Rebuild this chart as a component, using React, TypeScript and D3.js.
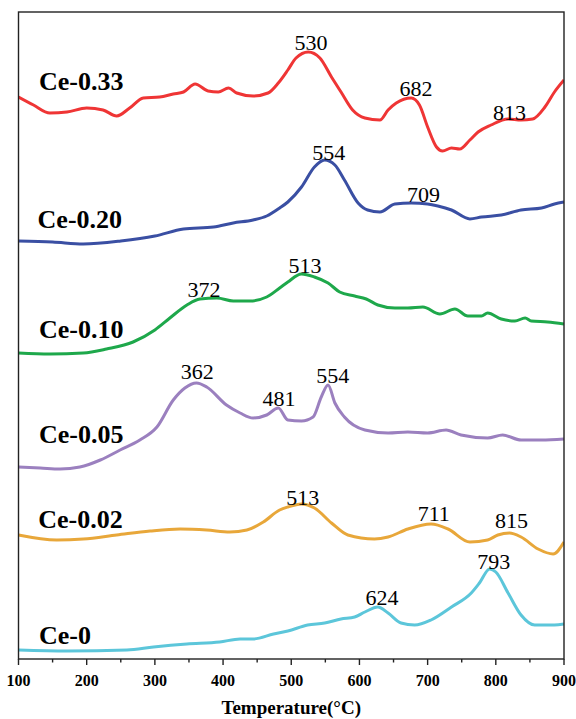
import * as d3 from "d3";

// H2-TPR style stacked curves, x in °C, y in arbitrary units (offset already included)
const temps = [100, 200, 300, 400, 500, 600, 700, 800, 900];
const minorTemps = [150, 250, 350, 450, 550, 650, 750, 850];

const ce033: [number, number][] = [
  [100, 562], [122, 554], [146, 546], [171, 547], [200, 551], [224, 549], [244, 543],
  [263, 551], [283, 561], [307, 562], [327, 565], [342, 567], [359, 575], [378, 568],
  [393, 567], [408, 571], [420, 566], [444, 563], [466, 566], [481, 576], [495, 589],
  [507, 601], [525, 607], [542, 601], [559, 582], [573, 567], [590, 549], [608, 541],
  [630, 539], [642, 549], [654, 556], [676, 561], [688, 554], [700, 532], [713, 512],
  [722, 508], [735, 511], [747, 510], [762, 519], [774, 527], [793, 534], [818, 540],
  [837, 539], [854, 540], [872, 552], [886, 567], [900, 579],
];
const ce020: [number, number][] = [
  [100, 418], [150, 417], [195, 415], [250, 418], [300, 423], [342, 430], [386, 432],
  [415, 436], [444, 439], [464, 443], [483, 451], [495, 457], [515, 472], [534, 492],
  [549, 499], [564, 494], [578, 479], [598, 456], [612, 449], [630, 447], [652, 455],
  [676, 456], [700, 455], [715, 453], [735, 449], [762, 440], [779, 442], [808, 444],
  [837, 449], [867, 451], [886, 455], [900, 457],
];
const ce010: [number, number][] = [
  [100, 306], [146, 305], [195, 306], [229, 310], [268, 317], [300, 329], [322, 341],
  [347, 354], [366, 360], [391, 361], [415, 358], [439, 358], [464, 362], [483, 371],
  [495, 377], [515, 385], [534, 382], [554, 376], [571, 367], [593, 363], [610, 360],
  [627, 354], [652, 351], [671, 351], [693, 352], [718, 345], [740, 350], [759, 343],
  [779, 343], [788, 346], [808, 340], [828, 338], [843, 341], [852, 338], [876, 337],
  [900, 335],
];
const ce005: [number, number][] = [
  [100, 192], [132, 191], [161, 190], [190, 192], [220, 199], [249, 209], [278, 219],
  [303, 232], [327, 259], [344, 271], [361, 276], [376, 272], [405, 254], [425, 246],
  [444, 241], [464, 244], [481, 251], [495, 239], [515, 238], [532, 242], [544, 262],
  [554, 274], [564, 256], [578, 242], [608, 229], [642, 226], [671, 227], [700, 226],
  [727, 229], [749, 224], [788, 221], [810, 224], [837, 219], [867, 219], [900, 220],
];
const ce002: [number, number][] = [
  [100, 124], [156, 119], [195, 120], [244, 124], [293, 128], [337, 130], [376, 129],
  [410, 127], [435, 129], [459, 137], [483, 149], [495, 152], [515, 155], [534, 151],
  [559, 136], [583, 124], [622, 120], [642, 122], [671, 130], [705, 135], [730, 130],
  [762, 117], [788, 119], [803, 124], [820, 126], [837, 122], [862, 110], [884, 105],
  [900, 117],
];
const ce000: [number, number][] = [
  [100, 9], [171, 8], [259, 9], [298, 12], [347, 15], [395, 17], [425, 20], [444, 20],
  [474, 25], [495, 28], [524, 34], [549, 36], [573, 40], [593, 42], [608, 47], [627, 52],
  [642, 46], [661, 36], [681, 34], [705, 39], [735, 52], [764, 66], [776, 76], [791, 90],
  [800, 87], [818, 66], [837, 44], [857, 34], [886, 34], [900, 35],
];

const seriesNames = ["Ce-0.33", "Ce-0.20", "Ce-0.10", "Ce-0.05", "Ce-0.02", "Ce-0"];
const seriesColors = ["#ef3535", "#3a4fa3", "#1ea84b", "#9b80bf", "#e8a73a", "#5cc6da"];
const seriesData = [ce033, ce020, ce010, ce005, ce002, ce000];
// where the name sits: [temperature of left edge, baseline value]
const nameAnchors: [number, number][] = [
  [130, 569], [128, 431], [130, 321], [130, 216], [129, 131], [130, 15],
];

// peak annotations: [text, temperature, baseline value]
const peakLabels: [string, number, number][] = [
  ["530", 529, 609], ["682", 683, 563], ["813", 820, 539],
  ["554", 555, 499], ["709", 694, 457],
  ["372", 372, 362], ["513", 520, 386],
  ["362", 362, 280], ["481", 482, 253], ["554", 561, 276],
  ["513", 517, 154], ["711", 709, 138], ["815", 823, 131],
  ["793", 797, 90], ["624", 633, 54],
];

const W = 576;
const H = 719;
const left = 18.5;
const right = 564;
const top = 12;
const bottom = 659;
const serif = "Liberation Serif";

export default function App() {
  const x = d3.scaleLinear().domain([100, 900]).range([left, right]);
  const y = d3.scaleLinear().domain([0, 647]).range([bottom, top]);
  const line = d3
    .line<[number, number]>()
    .x((d) => x(d[0]))
    .y((d) => y(d[1]))
    .curve(d3.curveMonotoneX);

  return (
    <svg
      width={W}
      height={H}
      style={{ position: "absolute", left: 0, top: 0, background: "#fff" }}
    >
      <defs>
        <clipPath id="plot">
          <rect x={left} y={top} width={right - left} height={bottom - top} />
        </clipPath>
      </defs>

      <g clipPath="url(#plot)">
        {seriesData.map((s, i) => (
          <path
            key={seriesNames[i]}
            d={line(s) ?? ""}
            fill="none"
            stroke={seriesColors[i]}
            strokeWidth={3}
            strokeLinejoin="round"
          />
        ))}
      </g>

      {/* frame */}
      <rect
        x={left}
        y={top}
        width={right - left}
        height={bottom - top}
        fill="none"
        stroke="#222"
        strokeWidth={1.4}
      />

      {/* x ticks */}
      {temps.map((t) => (
        <g key={t}>
          <line x1={x(t)} x2={x(t)} y1={bottom} y2={bottom + 6} stroke="#222" strokeWidth={1.4} />
          <text
            x={x(t)}
            y={686}
            textAnchor="middle"
            fontSize={16}
            fontWeight="bold"
            fontFamily={serif}
          >
            {t}
          </text>
        </g>
      ))}
      {minorTemps.map((t) => (
        <line key={t} x1={x(t)} x2={x(t)} y1={bottom} y2={bottom + 3.5} stroke="#222" strokeWidth={1.4} />
      ))}

      <text
        x={(left + right) / 2}
        y={714}
        textAnchor="middle"
        fontSize={19}
        fontWeight="bold"
        fontFamily={serif}
      >
        Temperature(°C)
      </text>

      {/* series names */}
      {seriesNames.map((n, i) => (
        <text
          key={n}
          x={x(nameAnchors[i][0])}
          y={y(nameAnchors[i][1])}
          fontSize={26}
          fontWeight="bold"
          fontFamily={serif}
        >
          {n}
        </text>
      ))}

      {/* peak positions */}
      {peakLabels.map(([txt, t, v], i) => (
        <text
          key={i}
          x={x(t)}
          y={y(v)}
          textAnchor="middle"
          fontSize={22}
          fontFamily={serif}
        >
          {txt}
        </text>
      ))}
    </svg>
  );
}
